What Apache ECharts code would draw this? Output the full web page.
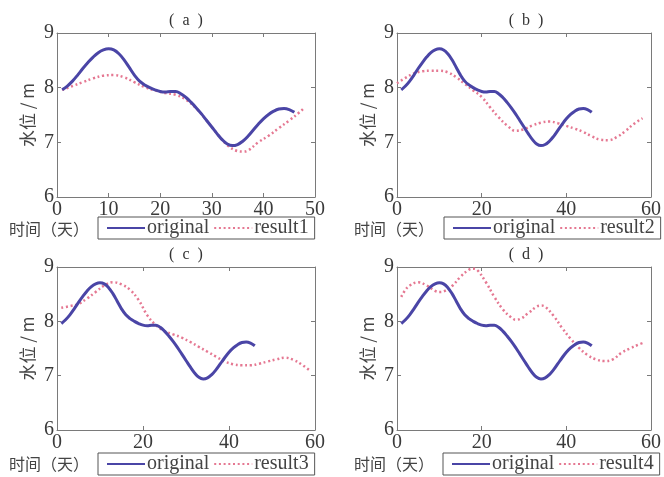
<!DOCTYPE html>
<html><head><meta charset="utf-8">
<script src="https://cdn.jsdelivr.net/npm/echarts@6/dist/echarts.min.js"></script>
<style>html,body{margin:0;padding:0;background:#fff}#c{width:664px;height:477px}</style>
</head><body><div id="c"></div>
<script>
// ---- data ----
const panelTitles = ['(  a  )', '(  b  )', '(  c  )', '(  d  )'];
const resultNames = ['result1', 'result2', 'result3', 'result4'];
const yTicks = [6, 7, 8, 9];
const xTicksA = [0, 10, 20, 30, 40, 50];
const xTicksBCD = [0, 20, 40, 60];

const originalX = [1, 2, 3, 4, 5, 6, 7, 8, 9, 10, 11, 12, 13, 14, 15, 16, 17, 18, 19, 20, 21, 22, 23, 24, 25, 26, 27, 28, 29, 30, 31, 32, 33, 34, 35, 36, 37, 38, 39, 40, 41, 42, 43, 44, 45, 46];
const originalY = [7.96, 8.03, 8.12, 8.23, 8.35, 8.46, 8.56, 8.64, 8.69, 8.71, 8.69, 8.62, 8.51, 8.37, 8.23, 8.12, 8.05, 8.00, 7.96, 7.93, 7.92, 7.93, 7.93, 7.89, 7.82, 7.73, 7.63, 7.52, 7.40, 7.28, 7.16, 7.05, 6.97, 6.94, 6.96, 7.02, 7.11, 7.22, 7.33, 7.43, 7.51, 7.57, 7.61, 7.62, 7.60, 7.55];

const result1X = [1, 3, 5, 7, 9, 11, 13, 15, 17, 19, 21, 23, 25, 27, 29, 31, 33, 35, 36, 37, 39, 41, 43, 45, 47, 48];
const result1Y = [7.96, 8.03, 8.10, 8.17, 8.22, 8.23, 8.19, 8.10, 8.01, 7.95, 7.90, 7.87, 7.78, 7.62, 7.40, 7.16, 6.95, 6.84, 6.83, 6.85, 7.00, 7.12, 7.26, 7.40, 7.55, 7.64];

const result2X = [0, 2, 4, 6, 8, 10, 12, 14, 16, 18, 20, 22, 24, 26, 28, 30, 32, 34, 36, 38, 40, 42, 44, 46, 48, 50, 52, 54, 56, 58];
const result2Y = [8.08, 8.18, 8.26, 8.30, 8.31, 8.31, 8.28, 8.19, 8.07, 7.95, 7.83, 7.64, 7.46, 7.31, 7.21, 7.24, 7.31, 7.36, 7.38, 7.35, 7.30, 7.25, 7.19, 7.11, 7.05, 7.04, 7.10, 7.21, 7.34, 7.44];

const result3X = [1, 3, 5, 7, 9, 11, 13, 15, 17, 19, 21, 23, 25, 27, 29, 31, 33, 35, 37, 39, 41, 43, 45, 47, 49, 51, 53, 55, 57, 59];
const result3Y = [8.25, 8.28, 8.32, 8.42, 8.54, 8.66, 8.72, 8.68, 8.58, 8.39, 8.11, 7.93, 7.82, 7.76, 7.70, 7.62, 7.53, 7.44, 7.35, 7.26, 7.21, 7.19, 7.19, 7.22, 7.26, 7.30, 7.33, 7.29, 7.20, 7.08];

const result4X = [1, 2, 3, 5, 7, 9, 10, 11, 13, 15, 17, 18, 19, 21, 23, 25, 27, 28, 29, 31, 33, 34, 35, 37, 39, 41, 43, 45, 47, 49, 51, 53, 55, 57, 58];
const result4Y = [8.45, 8.58, 8.66, 8.72, 8.66, 8.56, 8.54, 8.55, 8.65, 8.82, 8.95, 8.97, 8.94, 8.72, 8.45, 8.22, 8.07, 8.03, 8.04, 8.15, 8.27, 8.29, 8.27, 8.10, 7.88, 7.68, 7.51, 7.38, 7.30, 7.27, 7.30, 7.42, 7.50, 7.57, 7.60];

// ---- build ----
const zip = (xs, ys) => xs.map((x, i) => [x, ys[i]]);
const resultsX = [result1X, result2X, result3X, result4X];
const resultsY = [result1Y, result2Y, result3Y, result4Y];
const xTicksPer = [xTicksA, xTicksBCD, xTicksBCD, xTicksBCD];

const grids = [
  {left: 57, top: 33, width: 258, height: 164},
  {left: 397, top: 33, width: 258, height: 164},
  {left: 57, top: 267, width: 258, height: 163},
  {left: 397, top: 267, width: 258, height: 163}
];
const legendPos = [
  {left: 98, top: 217}, {left: 444, top: 217},
  {left: 98, top: 453}, {left: 443, top: 453}
];
const labelPos = [
  {x: 49, y: 229}, {x: 394, y: 229}, {x: 49, y: 464}, {x: 394, y: 464}
];

const axisColor = '#7a7a7a';
const numFont = 'Liberation Serif';
const cjkFont = 'Noto Sans CJK SC';
const blue = '#4a45a6';
const pink = '#e57892';

const xAxes = [], yAxes = [], series = [], legends = [], graphics = [];
grids.forEach((g, i) => {
  const xt = xTicksPer[i];
  const common = {
    type: 'value', gridIndex: i, splitLine: {show: false},
    axisLine: {show: true, onZero: false, lineStyle: {color: axisColor, width: 1}},
    axisTick: {show: true, inside: true, length: 4, lineStyle: {color: axisColor}}
  };
  xAxes.push(Object.assign({}, common, {
    position: 'bottom', min: xt[0], max: xt[xt.length - 1], interval: xt[1] - xt[0],
    axisLabel: {fontFamily: numFont, fontSize: 20, color: '#3a3a3a', margin: 3}
  }));
  xAxes.push(Object.assign({}, common, {
    position: 'top', min: xt[0], max: xt[xt.length - 1], interval: xt[1] - xt[0],
    axisLabel: {show: false}
  }));
  yAxes.push(Object.assign({}, common, {
    position: 'left', min: yTicks[0], max: yTicks[yTicks.length - 1], interval: yTicks[1] - yTicks[0],
    axisLabel: {fontFamily: numFont, fontSize: 20, color: '#3a3a3a', margin: 3},
    name: '水位 / m', nameLocation: 'middle', nameGap: 21,
    nameTextStyle: {fontFamily: cjkFont, fontSize: 17, color: '#444'}
  }));
  yAxes.push(Object.assign({}, common, {
    position: 'right', min: yTicks[0], max: yTicks[yTicks.length - 1], interval: yTicks[1] - yTicks[0],
    axisLabel: {show: false}
  }));
  series.push({
    name: 'original', type: 'line', xAxisIndex: 2 * i, yAxisIndex: 2 * i,
    data: zip(originalX, originalY), smooth: 0.4, symbol: 'none',
    lineStyle: {color: blue, width: 3}, itemStyle: {color: blue}, z: 3
  });
  series.push({
    name: resultNames[i], type: 'line', xAxisIndex: 2 * i, yAxisIndex: 2 * i,
    data: zip(resultsX[i], resultsY[i]), smooth: 0.4, symbol: 'none',
    lineStyle: {color: pink, width: 2.5, type: [2, 2.7], cap: 'butt'},
    itemStyle: {color: pink}, z: 2
  });
  legends.push({
    left: legendPos[i].left, top: legendPos[i].top, orient: 'horizontal',
    itemGap: 4, itemWidth: 38, itemHeight: 12, padding: [1, 6, 1, 8],
    borderColor: '#555', borderWidth: 1, selectedMode: false,
    itemStyle: {opacity: 0},
    textStyle: {fontFamily: numFont, fontSize: 20, color: '#444', padding: [0, 0, 0, -3]},
    data: ['original', resultNames[i]]
  });
  graphics.push({
    type: 'text', x: g.left + g.width / 2, y: g.top - 12,
    style: {text: panelTitles[i], font: '16px "Liberation Serif"', fill: '#333',
            align: 'center', verticalAlign: 'middle', textAlign: 'center', textVerticalAlign: 'middle'}
  });
  graphics.push({
    type: 'text', x: labelPos[i].x, y: labelPos[i].y,
    style: {text: '时间（天）', font: '16px "Noto Sans CJK SC"', fill: '#444',
            align: 'center', verticalAlign: 'middle', textAlign: 'center', textVerticalAlign: 'middle'}
  });
});

const chart = echarts.init(document.getElementById('c'), null, {renderer: 'canvas'});
chart.setOption({
  backgroundColor: '#ffffff',
  animation: false,
  grid: grids,
  xAxis: xAxes,
  yAxis: yAxes,
  series: series,
  legend: legends,
  graphic: graphics
});
</script></body></html>
